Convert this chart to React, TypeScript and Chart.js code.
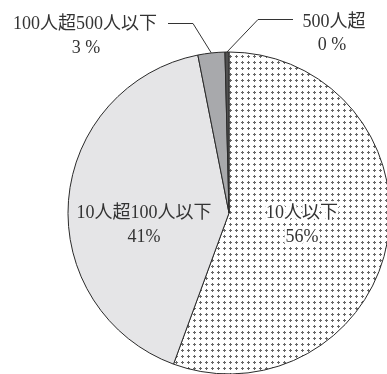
import React, { useEffect, useRef } from "react";
import { Chart, registerables } from "chart.js";

Chart.register(...registerables);

const categories = ["10人以下", "10人超100人以下", "100人超500人以下", "500人超"];
const values = [55.6, 41.3, 2.7, 0.4];
const percentLabels = ["56%", "41%", "3 %", "0 %"];

const FONT = "18px 'Liberation Serif', 'Noto Sans CJK JP', serif";
const TEXT_COLOR = "#333333";

function makeDotPattern(): CanvasPattern | string {
  const c = document.createElement("canvas");
  c.width = 6;
  c.height = 6;
  const g = c.getContext("2d");
  if (!g) return "#ffffff";
  g.fillStyle = "#ffffff";
  g.fillRect(0, 0, 6, 6);
  g.fillStyle = "#666666";
  g.fillRect(2, 1, 1, 3);
  g.fillRect(1, 2, 3, 1);
  const p = g.createPattern(c, "repeat");
  return p || "#ffffff";
}

const labelPlugin = {
  id: "pieLabels",
  afterDraw(chart: any) {
    const ctx = chart.ctx as CanvasRenderingContext2D;
    const meta = chart.getDatasetMeta(0);
    const arcs = meta.data as any[];
    ctx.save();
    ctx.font = FONT;
    ctx.fillStyle = TEXT_COLOR;
    ctx.textAlign = "center";
    ctx.textBaseline = "middle";
    ctx.lineJoin = "round";

    // inside labels
    const inside = [
      { i: 0, x: 302, y: 213, halo: true },
      { i: 1, x: 144, y: 213, halo: false },
    ];
    for (const l of inside) {
      if (l.halo) {
        ctx.strokeStyle = "#ffffff";
        ctx.lineWidth = 5;
        ctx.strokeText(categories[l.i], l.x, l.y);
        ctx.strokeText(percentLabels[l.i], l.x, l.y + 24);
      }
      ctx.fillText(categories[l.i], l.x, l.y);
      ctx.fillText(percentLabels[l.i], l.x, l.y + 24);
    }

    // outside labels with leader lines
    const edgePoint = (arc: any) => {
      const mid = (arc.startAngle + arc.endAngle) / 2;
      return {
        x: arc.x + Math.cos(mid) * arc.outerRadius,
        y: arc.y + Math.sin(mid) * arc.outerRadius,
      };
    };
    ctx.strokeStyle = "#333333";
    ctx.lineWidth = 1;

    const p2 = edgePoint(arcs[2]);
    ctx.beginPath();
    ctx.moveTo(168, 23.5);
    ctx.lineTo(193, 23.5);
    ctx.lineTo(p2.x, p2.y);
    ctx.stroke();
    ctx.fillText(categories[2], 85, 24);
    ctx.fillText(percentLabels[2], 86, 48);

    const p3 = edgePoint(arcs[3]);
    ctx.beginPath();
    ctx.moveTo(293, 19.5);
    ctx.lineTo(258, 19.5);
    ctx.lineTo(p3.x, p3.y);
    ctx.stroke();
    ctx.fillText(categories[3], 334, 22);
    ctx.fillText(percentLabels[3], 332, 45);
    ctx.restore();
  },
};

export default function App() {
  const ref = useRef<HTMLCanvasElement | null>(null);
  useEffect(() => {
    if (!ref.current) return;
    const pattern = makeDotPattern();
    const chart = new Chart(ref.current, {
      type: "pie",
      data: {
        labels: categories,
        datasets: [
          {
            data: values,
            backgroundColor: [pattern as any, "#e5e5e7", "#a8a9ac", "#505050"],
            borderColor: "#2a2a2a",
            borderWidth: 1,
          },
        ],
      },
      options: {
        responsive: false,
        animation: false,
        radius: 161,
        layout: { padding: { left: 68, top: 52, right: 10, bottom: 26 } },
        plugins: {
          legend: { display: false },
          tooltip: { enabled: false },
        },
      } as any,
      plugins: [labelPlugin],
    });
    return () => chart.destroy();
  }, []);
  return (
    <div
      style={{
        position: "fixed",
        left: 0,
        top: 0,
        width: 387,
        height: 374,
        overflow: "hidden",
        background: "#ffffff",
      }}
    >
      <canvas ref={ref} width={400} height={400} style={{ width: 400, height: 400, display: "block" }} />
    </div>
  );
}
